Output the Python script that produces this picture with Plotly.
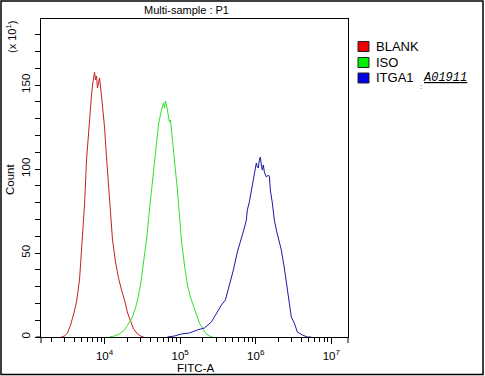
import plotly.graph_objects as go

# ---------------- data ----------------
blank_fitc = [2690, 2950, 3240, 3550, 3880, 4260, 4670, 5110, 5440, 5780, 6140, 6530, 6730,
              6940, 7140, 7380, 7600, 7840, 8070, 8340, 8590, 8850, 9120, 9420, 10000, 10620,
              11300, 12000, 12760, 13990, 15310, 16790, 18410, 20180, 22080, 24210, 27350,
              29990, 32890]
blank_count = [0, 0.6, 2.4, 7.1, 13.1, 20.8, 33.9, 57.7, 78.6, 105.4, 123.2, 136.9, 144,
               150, 153, 157.7, 153, 155.4, 148.2, 151.8, 154.2, 149.4, 144, 135.1, 125, 107.1,
               90.5, 72.6, 57.7, 44.6, 35.1, 28, 22, 14.3, 8.9, 4.8, 1.8, 0.6, 0]

iso_fitc = [11650, 13550, 15780, 18370, 21380, 23440, 25700, 27310, 29920, 32760, 35890,
            39300, 43050, 47170, 51650, 56600, 60150, 62070, 63970, 65920, 67940, 70020,
            72270, 74470, 76740, 81470, 86700, 92050, 97950, 104000, 114000, 124800, 136800,
            150000, 164100, 179900, 203200, 222300, 243800, 267300]
iso_count = [0, 0.6, 1.8, 4.2, 8.9, 11.9, 17.3, 22, 31, 42.9, 57.7, 75.6, 93.5, 111.3,
             126.2, 135.1, 139.3, 136.3, 140.5, 138.1, 133.9, 130.4, 128, 129.2, 123.2, 114.3,
             102.4, 87.5, 72.6, 57.7, 42.9, 31, 23.8, 19, 13.1, 8.3, 4.2, 1.8, 0.6, 0]

itga1_fitc = [67900, 84100, 104000, 132700, 169300, 209600, 259000, 311000, 351300, 396600,
              448000, 506000, 571000, 626000, 665000, 707000, 751000, 774000, 823000, 875000,
              930000, 988000, 1018000, 1050000, 1082000, 1116000, 1150000, 1186000, 1222000,
              1260000, 1299000, 1381000, 1467000, 1512000, 1559000, 1657000, 1761000, 1872000,
              1990000, 2178000, 2387000, 2614000, 2779000, 2953000, 3237000, 3545000, 4131000,
              4811000, 5424000]
itga1_count = [0, 0.6, 1.8, 2.4, 4.2, 5.4, 8.9, 14.9, 19, 22, 31, 39.9, 50.6, 56.5, 59.5,
               64.9, 69.6, 75.6, 80.4, 87.5, 92.3, 99.4, 103.6, 101.2, 100.6, 105.4, 107.1,
               102.4, 99.4, 102.4, 98.2, 95.2, 96.4, 95.8, 87.5, 79.8, 69.6, 63.7, 58.9, 51.8,
               41.1, 28, 22, 11.9, 8.3, 3, 1.2, 0, 0]

series_names = ["BLANK", "ISO", "ITGA1"]
line_colors = ["#c81e1e", "#2ee02e", "#1a1aa6"]
legend_colors = ["#f00000", "#00f000", "#0000e6"]

x_major = [1e4, 1e5, 1e6, 1e7]
x_major_text = ["10<sup>4</sup>", "10<sup>5</sup>", "10<sup>6</sup>", "10<sup>7</sup>"]
x_minor = [m * 10 ** e for e in (3, 4, 5, 6) for m in range(2, 10)]
y_major = [0, 50, 100, 150]
y_minor = [v for v in range(0, 190, 10) if v % 50 != 0]

# ---------------- layout helpers ----------------
W, H = 485, 376
L, R, T, B = 41, 348, 19, 337
def px(x):
    return (x - L) / (R - L)
def py(y):
    return (B - y) / (B - T)

FONT = "Liberation Sans, Arial, sans-serif"

fig = go.Figure()
for xs, ys, name, col in zip([blank_fitc, iso_fitc, itga1_fitc],
                             [blank_count, iso_count, itga1_count],
                             series_names, line_colors):
    fig.add_trace(go.Scatter(x=xs, y=ys, mode="lines", name=name,
                             line=dict(color=col, width=1), showlegend=False,
                             hoverinfo="skip"))

fig.update_layout(
    width=W, height=H,
    margin=dict(l=L, r=W - R, t=T, b=H - B, pad=0),
    paper_bgcolor="white", plot_bgcolor="white",
    font=dict(family=FONT, color="black", size=11),
    xaxis=dict(type="log", range=[3.16, 7.22], showgrid=False, zeroline=False,
               showline=True, linecolor="black", linewidth=1, mirror=True,
               tickmode="array", tickvals=x_major, ticktext=x_major_text,
               ticks="outside", ticklen=6, tickcolor="black", tickwidth=1,
               ticklabelstandoff=2,
               tickfont=dict(size=11.5, family=FONT),
               minor=dict(ticks="outside", ticklen=4, tickcolor="black",
                          tickmode="array", tickvals=x_minor, showgrid=False)),
    yaxis=dict(range=[0, 189.3], showgrid=False, zeroline=False,
               showline=True, linecolor="black", linewidth=1, mirror=True,
               tickmode="array", tickvals=y_major,
               ticks="outside", ticklen=5, tickcolor="black", tickwidth=1,
               tickangle=-90, tickfont=dict(size=11.5, family=FONT),
               minor=dict(ticks="outside", ticklen=5, tickcolor="black",
                          tickmode="array", tickvals=y_minor, showgrid=False)),
)

ann = []
def add_text(text, x, y, size=11, angle=0, xanchor="center", family=FONT):
    ann.append(dict(text=text, x=px(x), y=py(y), xref="paper", yref="paper",
                    showarrow=False, textangle=angle, xanchor=xanchor, yanchor="middle",
                    font=dict(size=size, family=family, color="black")))

add_text("Multi-sample : P1", 186, 10, 11)
add_text("FITC-A", 195, 368, 11.5)
add_text("Count", 10, 180, 11.5, -90)
add_text("(x 10<sup>1</sup>)", 11, 37, 11, -90)
legend_y = [46.5, 62.5, 78]
for name, yy in zip(series_names, legend_y):
    add_text(name, 374, yy, 13, 0, "left")
add_text("<u><i>A01911</i></u>", 421, 78, 12, 0, "left",
         "Liberation Mono, Courier New, monospace")
add_text(":", 421, 87, 7, 0, "center")
fig.update_layout(annotations=ann)

shapes = []
# legend squares
for col, yy in zip(legend_colors, legend_y):
    shapes.append(dict(type="rect", xref="paper", yref="paper",
                       x0=px(358), x1=px(369), y0=py(yy - 5), y1=py(yy + 5),
                       fillcolor=col, line=dict(color="#202020", width=1)))
# axis corner extensions
for xx in (L, R):
    shapes.append(dict(type="line", xref="paper", yref="paper",
                       x0=px(xx), x1=px(xx), y0=py(B), y1=py(B + 6),
                       line=dict(color="black", width=1)))
shapes.append(dict(type="line", xref="paper", yref="paper",
                   x0=px(L - 5), x1=px(L), y0=py(B), y1=py(B),
                   line=dict(color="black", width=1)))
# outer frame
shapes.append(dict(type="rect", xref="paper", yref="paper",
                   x0=px(1), x1=px(483), y0=py(1), y1=py(374.5),
                   line=dict(color="black", width=1.5), fillcolor="rgba(0,0,0,0)"))
fig.update_layout(shapes=shapes)

fig.write_html("out.html", config={"displayModeBar": False},
               post_script="document.body.style.margin='0';document.body.style.overflow='hidden';")
